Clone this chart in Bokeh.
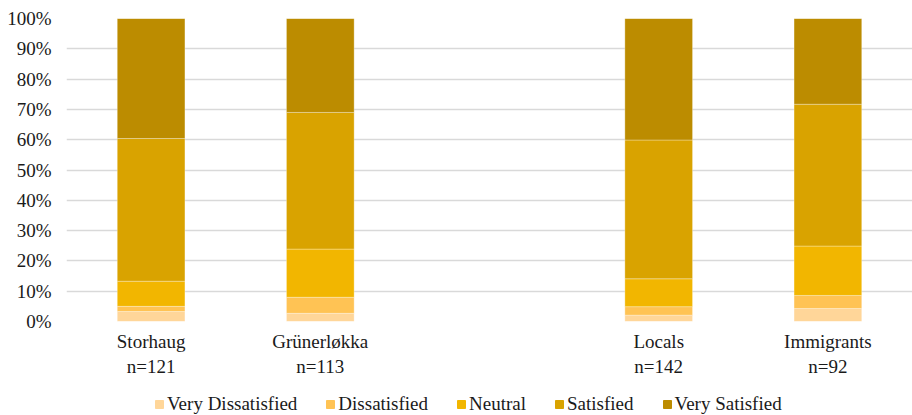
from bokeh.plotting import figure
from bokeh.layouts import column
from bokeh.models import ColumnDataSource, FixedTicker, PrintfTickFormatter, Legend, Range1d
from bokeh.embed import file_html
from bokeh.resources import INLINE

# Satisfaction shares (%) per group
groups = ["Storhaug\nn=121", "Grünerløkka\nn=113", "Locals\nn=142", "Immigrants\nn=92"]
positions = [0, 1, 3, 4]  # slot 2 left empty as a separator
very_dissatisfied = [3.3, 2.7, 2.1, 4.3]
dissatisfied = [1.7, 5.3, 2.8, 4.3]
neutral = [8.3, 15.9, 9.2, 16.3]
satisfied = [47.1, 45.1, 45.8, 46.8]
very_satisfied = [39.6, 31.0, 40.1, 28.3]

levels = ["Very Dissatisfied", "Dissatisfied", "Neutral", "Satisfied", "Very Satisfied"]
colors = ["#FFD699", "#FFC354", "#F2B600", "#D9A300", "#BC8C00"]

source = ColumnDataSource(dict(
    x=positions,
    vd=very_dissatisfied,
    d=dissatisfied,
    n=neutral,
    s=satisfied,
    vs=very_satisfied,
))

FONT = "Liberation Serif"
TEXT = "#1a1a1a"
SIZE = "19px"

p = figure(width=912, height=380, output_backend="svg", toolbar_location=None,
           x_range=Range1d(-0.5, 4.5), y_range=Range1d(0, 100))
p.min_border_left = 66
p.min_border_right = 0
p.min_border_top = 18
p.min_border_bottom = 59
p.outline_line_color = None
p.background_fill_color = "white"
p.border_fill_color = "white"

p.vbar_stack(["vd", "d", "n", "s", "vs"], x="x", width=0.4, source=source,
             color=colors, line_color="white", line_alpha=0.3, line_width=1)

p.xgrid.visible = False
p.ygrid.grid_line_color = "#D9D9D9"
p.ygrid.grid_line_width = 1.5
p.ygrid.ticker = FixedTicker(ticks=list(range(0, 101, 10)))

p.yaxis.ticker = FixedTicker(ticks=list(range(0, 101, 10)))
p.yaxis.formatter = PrintfTickFormatter(format="%d%%")
p.yaxis.axis_line_color = None
p.yaxis.major_tick_line_color = None
p.yaxis.minor_tick_line_color = None
p.yaxis.major_label_text_font = FONT
p.yaxis.major_label_text_font_size = SIZE
p.yaxis.major_label_text_color = TEXT
p.yaxis.major_label_standoff = 9

p.xaxis.ticker = FixedTicker(ticks=positions)
p.xaxis.major_label_overrides = {pos: lab for pos, lab in zip(positions, groups)}
p.xaxis.axis_line_color = None
p.xaxis.major_tick_line_color = None
p.xaxis.minor_tick_line_color = None
p.xaxis.major_label_text_font = FONT
p.xaxis.major_label_text_font_size = SIZE
p.xaxis.major_label_text_color = TEXT
p.xaxis.major_label_standoff = 3

# Legend strip under the chart; its swatch renderers lie far outside the visible ranges
lg = figure(width=912, height=35, output_backend="svg", toolbar_location=None,
            x_range=Range1d(0, 1), y_range=Range1d(0, 1))
lg.min_border_left = 0
lg.min_border_right = 0
lg.min_border_top = 14
lg.min_border_bottom = 0
lg.outline_line_color = None
lg.axis.visible = False
lg.grid.visible = False
swatches = [lg.vbar(x=[50], bottom=[50], top=[51], width=0.1, color=c) for c in colors]

legend = Legend(items=[(lab, [r]) for lab, r in zip(levels, swatches)],
                orientation="horizontal", location=(88, 0),
                label_text_font=FONT, label_text_font_size=SIZE,
                label_text_color=TEXT,
                glyph_width=10, glyph_height=10, label_standoff=3, spacing=28,
                padding=0, margin=0, border_line_color=None,
                background_fill_alpha=0)
lg.add_layout(legend, "center")

layout = column(p, lg, spacing=0)
open("out.html", "w").write(file_html(layout, INLINE))
